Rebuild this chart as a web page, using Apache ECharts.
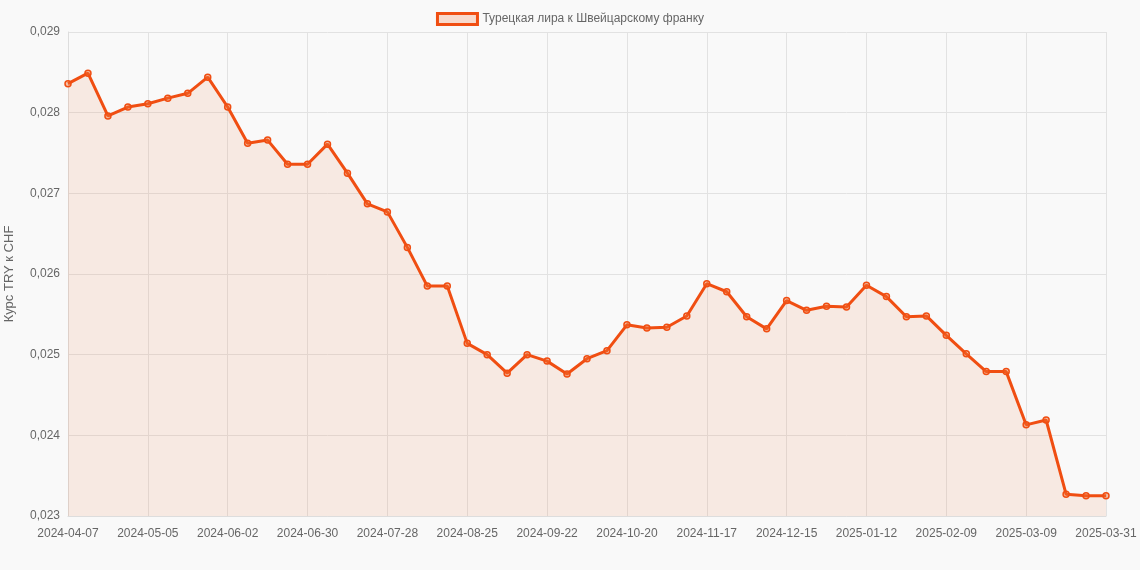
<!DOCTYPE html>
<html>
<head>
<meta charset="utf-8">
<script src="https://cdn.jsdelivr.net/npm/echarts@6/dist/echarts.min.js"></script>
<style>
  html, body { margin: 0; padding: 0; background: #f9f9f9; }
  #main { width: 1140px; height: 570px; }
</style>
</head>
<body>
<div id="main"></div>
<script>
var seriesName = 'Турецкая лира к Швейцарскому франку';
var yAxisName = 'Курс TRY к CHF';

// недельные даты, последняя точка 2025-03-31
var dates = [];
(function () {
  var d = new Date(Date.UTC(2024, 3, 7));
  for (var i = 0; i < 52; i++) {
    dates.push(d.toISOString().slice(0, 10));
    d = new Date(d.getTime() + 7 * 86400000);
  }
  dates.push('2025-03-31');
})();

var rates = [
  0.02836, 0.02849, 0.02796, 0.02807, 0.02811, 0.02818, 0.02824, 0.02844,
  0.02807, 0.02762, 0.02766, 0.02736, 0.02736, 0.02761, 0.02725, 0.02687,
  0.02677, 0.02633, 0.02585, 0.02585, 0.02514, 0.02500, 0.02477, 0.02500,
  0.02492, 0.02476, 0.02495, 0.02505, 0.02537, 0.02533, 0.02534, 0.02548,
  0.02588, 0.02578, 0.02547, 0.02532, 0.02567, 0.02555, 0.02560, 0.02559,
  0.02586, 0.02572, 0.02547, 0.02548, 0.02524, 0.02501, 0.02479, 0.02479,
  0.02413, 0.02419, 0.02327, 0.02325, 0.02325
];

var myChart = echarts.init(document.getElementById('main'));
var option = {
  backgroundColor: '#f9f9f9',
  textStyle: { fontFamily: 'Liberation Sans, Arial, sans-serif' },
  legend: {
    top: 7,
    itemWidth: 40,
    itemHeight: 11,
    textStyle: { color: '#666', fontSize: 12 },
    data: [{ name: seriesName, icon: 'rect', itemStyle: { color: 'rgba(240,110,50,0.22)', borderColor: '#f04e12', borderWidth: 3 } }]
  },
  grid: { left: 68, right: 34, top: 32, bottom: 54, containLabel: false, outerBoundsMode: 'none' },
  xAxis: {
    type: 'category',
    boundaryGap: false,
    data: dates,
    axisLine: { lineStyle: { color: '#ddd' } },
    axisTick: { show: false },
    axisLabel: {
      color: '#666', fontSize: 12, margin: 12,
      interval: function (i) { return i % 4 === 0 || i === dates.length - 1; }
    },
    splitLine: { show: true, interval: function (i) { return i % 4 === 0 || i === dates.length - 1; }, lineStyle: { color: '#e2e2e2' } }
  },
  yAxis: {
    type: 'value',
    min: 0.023, max: 0.029, interval: 0.001,
    name: yAxisName,
    nameLocation: 'middle',
    nameGap: 52,
    nameTextStyle: { color: '#666', fontSize: 13 },
    axisLine: { show: true, lineStyle: { color: '#ddd' } },
    axisLabel: { color: '#666', fontSize: 12, formatter: function (v) { return v.toFixed(3).replace('.', ','); } },
    splitLine: { lineStyle: { color: '#e2e2e2' } }
  },
  series: [{
    name: seriesName,
    type: 'line',
    data: rates,
    symbol: 'circle',
    symbolSize: 6,
    itemStyle: { color: 'rgba(240,110,50,0.4)', borderColor: '#f04e12', borderWidth: 1.5 },
    lineStyle: { color: '#f04e12', width: 3 },
    areaStyle: { color: 'rgba(240,110,50,0.16)' }
  }]
};
myChart.setOption(option);
</script>
</body>
</html>
